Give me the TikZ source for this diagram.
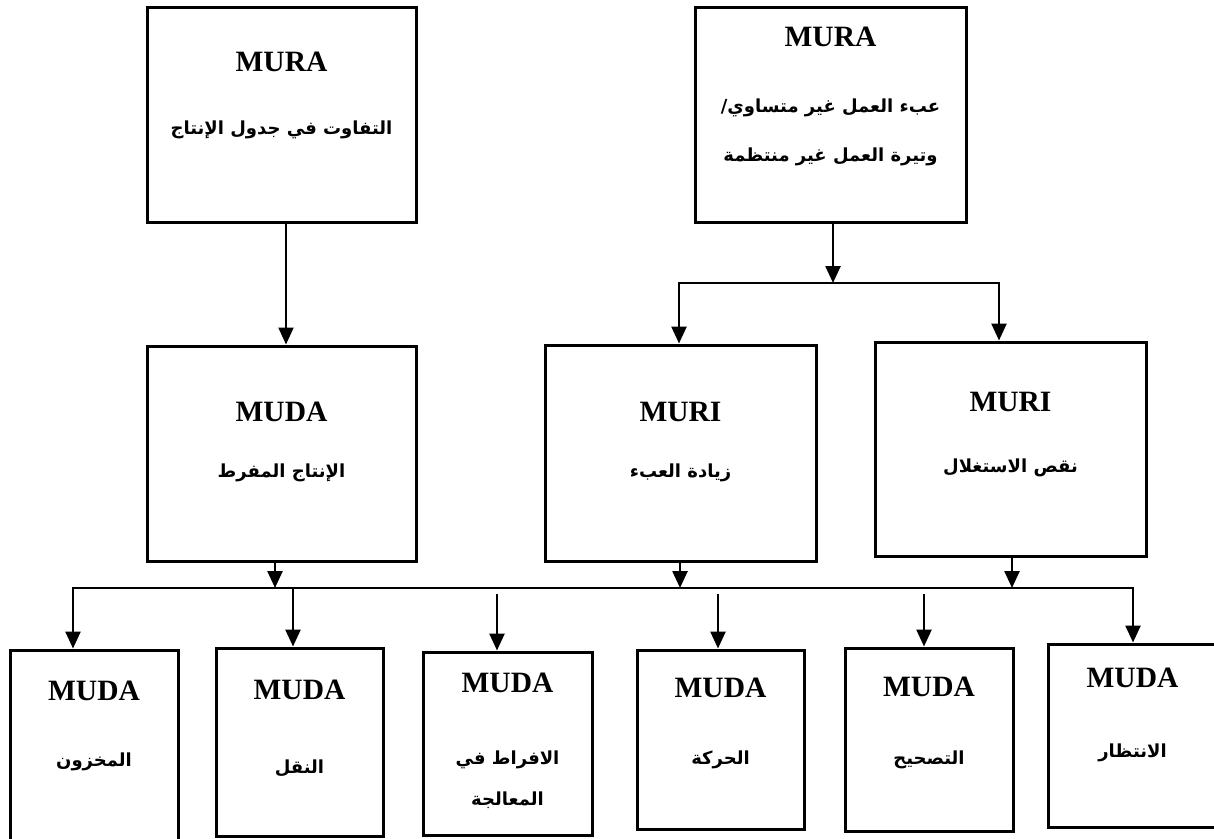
\documentclass[tikz,border=0pt]{standalone}
\usepackage{fontspec}
\setmainfont{Liberation Serif}
\newfontfamily\arabicfont[Script=Arabic]{DejaVu Sans}
\TeXXeTstate=1
\usetikzlibrary{arrows.meta}

\tikzset{
  bx/.style={draw, line width=3pt, inner sep=0pt},
  lat/.style={font=\fontsize{29.5}{33}\selectfont\bfseries, inner sep=0pt},
  ara/.style={font=\fontsize{18}{21}\selectfont\arabicfont\bfseries, inner sep=0pt, align=center},
  tip/.tip={Triangle[length=17pt,width=15pt]},
  arr/.style={-tip, line width=2.5pt},
  twoarr/.style={tip-tip, line width=2.5pt, line join=miter},
}

\begin{document}
\begin{tikzpicture}[x=1pt,y=-1pt]
\useasboundingbox (0,0) rectangle (1214,838);

% top row
\node[bx, minimum width=269pt, minimum height=215pt] (tl) at (281.5,114.5) {};
\node[bx, minimum width=271pt, minimum height=215pt] (tr) at (830.5,114.5) {};
% middle row
\node[bx, minimum width=269pt, minimum height=215pt] (mA) at (281.5,453.5) {};
\node[bx, minimum width=271pt, minimum height=216pt] (mB) at (680.5,453) {};
\node[bx, minimum width=271pt, minimum height=214pt] (mC) at (1010.5,449) {};
% bottom row
\node[bx, minimum width=168pt, minimum height=192pt] (b1) at (94,746) {};
\node[bx, minimum width=167pt, minimum height=188pt] (b2) at (299.5,742) {};
\node[bx, minimum width=169pt, minimum height=183pt] (b3) at (507.5,743.5) {};
\node[bx, minimum width=167pt, minimum height=179pt] (b4) at (720.5,739.5) {};
\node[bx, minimum width=168pt, minimum height=183pt] (b5) at (929,739.5) {};
\node[bx, minimum width=169pt, minimum height=183pt] (b6) at (1132.5,735.5) {};

% labels
\node[lat] (tlA) at (281.5,62) {MURA};
\node[ara] (tlB) at (281.5,130) {\beginR التفاوت في جدول الإنتاج\endR};
\node[lat] (trA) at (830.5,37) {MURA};
\node[ara] (trB) at (830.5,108) {\beginR عبء العمل غير متساوي/\endR};
\node[ara] (trC) at (830.5,157) {\beginR وتيرة العمل غير منتظمة\endR};

\node[lat] (mAa) at (281.5,412) {MUDA};
\node[ara] (mAb) at (281.5,473) {\beginR الإنتاج المفرط\endR};
\node[lat] (mBa) at (680.5,412) {MURI};
\node[ara] (mBb) at (680.5,473) {\beginR زيادة العبء\endR};
\node[lat] (mCa) at (1010.5,402) {MURI};
\node[ara] (mCb) at (1010.5,468) {\beginR نقص الاستغلال\endR};

\node[lat] (b1a) at (94,691) {MUDA};
\node[ara] (b1b) at (94,762) {\beginR المخزون\endR};
\node[lat] (b2a) at (299.5,690) {MUDA};
\node[ara] (b2b) at (299.5,768) {\beginR النقل\endR};
\node[lat] (b3a) at (507.5,683) {MUDA};
\node[ara] (b3b) at (507.5,760) {\beginR الافراط في\endR};
\node[ara] (b3c) at (507.5,800) {\beginR المعالجة\endR};
\node[lat] (b4a) at (720.5,688) {MUDA};
\node[ara] (b4b) at (720.5,760) {\beginR الحركة\endR};
\node[lat] (b5a) at (929,687) {MUDA};
\node[ara] (b5b) at (929,760) {\beginR التصحيح\endR};
\node[lat] (b6a) at (1132.5,678) {MUDA};
\node[ara] (b6b) at (1132.5,753) {\beginR الانتظار\endR};

% connector points
\coordinate (j1) at (833,283);
\coordinate (j1l) at (679,283);
\coordinate (j1r) at (999,283);
\coordinate (busL) at (73,588);
\coordinate (busR) at (1133,588);
\coordinate (kA) at (275,588);
\coordinate (kB) at (680,588);
\coordinate (kC) at (1012,588);
\coordinate (d2) at (293,588);
\coordinate (d3) at (497,594);
\coordinate (d4) at (718,594);
\coordinate (d5) at (924,594);

% connectors
\draw[arr, line width=2pt] ([xshift=4.5pt]tl.south) -- ([xshift=4.5pt]mA.north);
\draw[arr] (tr.south -| j1) -- (j1);
\draw[twoarr] (mB.north -| j1l) -- (j1l) -- (j1r) -- (mC.north -| j1r);

\draw[arr] (mA.south -| kA) -- (kA);
\draw[arr] (mB.south -| kB) -- (kB);
\draw[arr] (mC.south -| kC) -- (kC);
\draw[twoarr] (b1.north -| busL) -- (busL) -- (busR) -- (b6.north -| busR);
\draw[arr] (d2) -- (b2.north -| d2);
\draw[arr] (d3) -- (b3.north -| d3);
\draw[arr] (d4) -- (b4.north -| d4);
\draw[arr] (d5) -- (b5.north -| d5);
\end{tikzpicture}
\end{document}
